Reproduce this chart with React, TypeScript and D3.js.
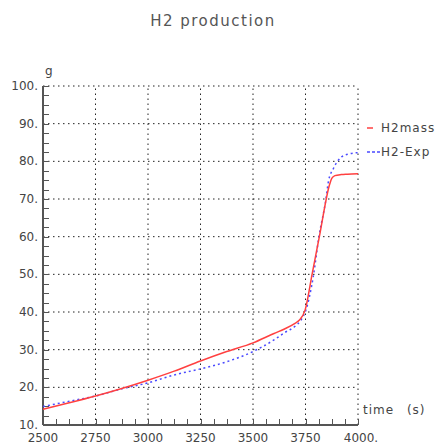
import React, { useRef, useEffect } from "react";
import * as d3 from "d3";

// data
const massTime = [2500, 2625, 2750, 2875, 3000, 3125, 3250, 3375, 3500, 3600, 3650, 3700, 3720, 3748, 3782, 3816, 3864, 3875, 3890, 3920, 3950, 4000];
const h2mass = [14.2, 15.9, 17.7, 19.7, 21.9, 24.3, 27.0, 29.5, 31.8, 34.3, 35.5, 37.0, 37.8, 40.5, 50.2, 60.0, 73.7, 75.5, 76.2, 76.5, 76.6, 76.7];
const expTime = [2500, 2625, 2750, 2875, 3000, 3125, 3250, 3375, 3500, 3600, 3650, 3700, 3730, 3752, 3787, 3814, 3848, 3859, 3883, 3922, 3960, 4000];
const h2exp = [14.9, 16.3, 17.7, 19.6, 21.2, 23.3, 24.9, 26.8, 29.5, 32.6, 34.5, 36.2, 38.0, 40.5, 49.4, 60.0, 70.2, 74.6, 78.1, 81.2, 82.0, 82.3];

const xTicks = [2500, 2750, 3000, 3250, 3500, 3750, 4000];
const xTickLabels = ["2500", "2750", "3000", "3250", "3500", "3750", "4000."];
const yTicks = [10, 20, 30, 40, 50, 60, 70, 80, 90, 100];
const yTickLabels = ["10.", "20.", "30.", "40.", "50.", "60.", "70.", "80.", "90.", "100."];
const seriesNames = ["H2mass", "H2-Exp"];

const FONT = "DejaVu Sans, sans-serif";

const App = () => {
  const ref = useRef<SVGSVGElement>(null);

  useEffect(() => {
    const width = 437;
    const height = 445;
    const margin = { top: 86, right: 79, bottom: 20, left: 43 };

    const svg = d3.select(ref.current);
    svg.selectAll("*").remove();

    const x = d3.scaleLinear().domain([2500, 4000]).range([margin.left, width - margin.right]);
    const y = d3.scaleLinear().domain([10, 100]).range([height - margin.bottom, margin.top]);

    // titre
    svg
      .append("text")
      .attr("x", 213)
      .attr("y", 26)
      .attr("text-anchor", "middle")
      .attr("font-family", FONT)
      .attr("font-size", "15px")
      .attr("letter-spacing", "1.5px")
      .attr("fill", "#555")
      .text("H2 production");

    // grille pointillée
    const grid = svg.append("g").attr("stroke", "#222").attr("stroke-width", 1).attr("stroke-dasharray", "1.5,3.5");
    grid
      .selectAll("line.h")
      .data(yTicks.slice(1))
      .join("line")
      .attr("x1", x(2500))
      .attr("x2", x(4000))
      .attr("y1", (d) => y(d))
      .attr("y2", (d) => y(d));
    grid
      .selectAll("line.v")
      .data(xTicks.slice(1))
      .join("line")
      .attr("class", "v")
      .attr("y1", y(10))
      .attr("y2", y(100))
      .attr("x1", (d) => x(d))
      .attr("x2", (d) => x(d));

    // petites graduations
    const minorY = d3.range(10, 100.01, 2.5);
    const minorX = d3.range(2500, 4000.01, 62.5);
    svg
      .append("g")
      .attr("stroke", "#555")
      .selectAll("line")
      .data(minorY)
      .join("line")
      .attr("x1", x(2500))
      .attr("x2", x(2500) + 6)
      .attr("y1", (d) => Math.round(y(d)) + 0.5)
      .attr("y2", (d) => Math.round(y(d)) + 0.5);
    svg
      .append("g")
      .attr("stroke", "#555")
      .selectAll("line")
      .data(minorX)
      .join("line")
      .attr("y1", y(10))
      .attr("y2", y(10) - 6)
      .attr("x1", (d) => Math.round(x(d)) + 0.5)
      .attr("x2", (d) => Math.round(x(d)) + 0.5);

    // axes
    svg
      .append("line")
      .attr("x1", x(2500))
      .attr("x2", x(2500))
      .attr("y1", y(10))
      .attr("y2", y(100))
      .attr("stroke", "#555")
      .attr("stroke-width", 2);
    svg
      .append("line")
      .attr("x1", x(2500))
      .attr("x2", x(4000))
      .attr("y1", y(10))
      .attr("y2", y(10))
      .attr("stroke", "#555")
      .attr("stroke-width", 2);

    // étiquettes
    svg
      .append("g")
      .attr("font-family", FONT)
      .attr("font-size", "12px")
      .attr("fill", "#444")
      .attr("text-anchor", "end")
      .selectAll("text")
      .data(yTicks)
      .join("text")
      .attr("x", x(2500) - 5)
      .attr("y", (d) => y(d) + 4)
      .text((d, i) => yTickLabels[i]);
    svg
      .append("g")
      .attr("font-family", FONT)
      .attr("font-size", "12px")
      .attr("fill", "#444")
      .attr("text-anchor", "middle")
      .selectAll("text")
      .data(xTicks)
      .join("text")
      .attr("x", (d, i) => x(d) + (i === xTicks.length - 1 ? 3 : 0))
      .attr("y", y(10) + 17)
      .text((d, i) => xTickLabels[i]);

    svg
      .append("text")
      .attr("x", x(2500) + 2)
      .attr("y", y(100) - 11)
      .attr("font-family", FONT)
      .attr("font-size", "12px")
      .attr("fill", "#444")
      .text("g");
    svg
      .append("text")
      .attr("x", x(4000) + 5)
      .attr("y", y(10) - 11)
      .attr("font-family", FONT)
      .attr("font-size", "12px")
      .attr("letter-spacing", "1px")
      .attr("word-spacing", "8px")
      .attr("fill", "#444")
      .text("time (s)");

    // courbes
    const line = d3
      .line<[number, number]>()
      .x((d) => x(d[0]))
      .y((d) => y(d[1]))
      .curve(d3.curveMonotoneX);

    svg
      .append("path")
      .attr("d", line(expTime.map((t, i) => [t, h2exp[i]])))
      .attr("fill", "none")
      .attr("stroke", "#4a4aff")
      .attr("stroke-width", 1.5)
      .attr("stroke-dasharray", "2,3");
    svg
      .append("path")
      .attr("d", line(massTime.map((t, i) => [t, h2mass[i]])))
      .attr("fill", "none")
      .attr("stroke", "#ff4040")
      .attr("stroke-width", 1.5);

    // légende
    const legend = svg
      .append("g")
      .attr("font-family", FONT)
      .attr("font-size", "12px")
      .attr("letter-spacing", "1px")
      .attr("fill", "#444");
    const legendColors = ["#ff4040", "#4a4aff"];
    seriesNames.forEach((name, i) => {
      const ly = 128 + i * 24;
      legend
        .append("line")
        .attr("x1", 367)
        .attr("x2", i === 0 ? 373 : 381)
        .attr("y1", ly)
        .attr("y2", ly)
        .attr("stroke", legendColors[i])
        .attr("stroke-width", 1.5)
        .attr("stroke-dasharray", i === 0 ? null : "3,2");
      legend
        .append("text")
        .attr("x", 381)
        .attr("y", ly + 4)
        .text(name);
    });
  }, []);

  return (
    <svg
      ref={ref}
      width={437}
      height={445}
      style={{ position: "absolute", left: 0, top: 0, background: "#fff" }}
    />
  );
};

export default App;
